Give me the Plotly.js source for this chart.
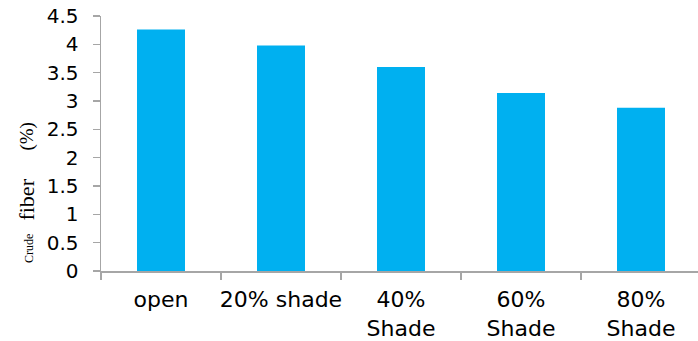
<!DOCTYPE html>
<html>
<head>
<meta charset="utf-8">
<script src="https://cdn.plot.ly/plotly-3.0.1.min.js"></script>
<style>
  html, body { margin: 0; padding: 0; background: #ffffff; }
  #chart { width: 698px; height: 341px; }
</style>
</head>
<body>
<div id="chart"></div>
<script>
// Shade treatments and their crude fiber content (%)
const categories = ["open", "20% shade", "40%<br>Shade", "60%<br>Shade", "80%<br>Shade"];
const crudeFiber = [4.26, 3.98, 3.60, 3.14, 2.88];
const yTickValues = [0, 0.5, 1, 1.5, 2, 2.5, 3, 3.5, 4, 4.5];
const yTickLabels = ["0", "0.5", "1", "1.5", "2", "2.5", "3", "3.5", "4", "4.5"];
// y-axis title pieces, each set in its own size
const yTitleParts = ["Crude", "fiber", "(%)"];
const yTitleSizes = [12, 22, 19];

const axisGrey = "#a6a6a6";
const plotLeft = 101, plotBottom = 271;

const trace = {
  type: "bar",
  x: categories,
  y: crudeFiber,
  width: 0.4,
  marker: { color: "#00b0f0", line: { width: 0 } },
  hoverinfo: "x+y"
};

// Rotated title pieces sharing one baseline (pixel column 33)
const titleBaseline = 33;
const titleCenters = [248, 200, 137];
const annotations = yTitleParts.map((txt, i) => ({
  text: txt,
  xref: "paper", yref: "paper",
  x: 0, y: 0,
  xanchor: "center", yanchor: "middle",
  xshift: (titleBaseline - 0.3375 * yTitleSizes[i]) - plotLeft,
  yshift: plotBottom - titleCenters[i],
  textangle: -90,
  showarrow: false,
  font: { family: "Liberation Serif, Times New Roman, serif", size: yTitleSizes[i], color: "#000000" }
}));

const layout = {
  width: 698,
  height: 341,
  margin: { l: plotLeft, r: 0, t: 16, b: 341 - plotBottom, pad: 0 },
  paper_bgcolor: "#ffffff",
  plot_bgcolor: "#ffffff",
  showlegend: false,
  font: { family: "DejaVu Sans, Arial, sans-serif", color: "#000000" },
  xaxis: {
    type: "category",
    range: [-0.5, 4.475],
    showline: true, linecolor: axisGrey, linewidth: 1.5,
    ticks: "outside", tickson: "boundaries", ticklen: 7, tickwidth: 1.5, tickcolor: axisGrey,
    showgrid: false, zeroline: false, tickangle: 0,
    tickfont: { family: "DejaVu Sans, Arial, sans-serif", size: 22, color: "#000000" },
    ticklabelstandoff: 8
  },
  yaxis: {
    range: [0, 4.5],
    tickmode: "array", tickvals: yTickValues, ticktext: yTickLabels,
    showline: true, linecolor: axisGrey, linewidth: 1.5,
    ticks: "outside", ticklen: 7, tickwidth: 1.5, tickcolor: axisGrey,
    showgrid: false, zeroline: false,
    tickfont: { family: "DejaVu Sans, Arial, sans-serif", size: 20, color: "#000000" },
    ticklabelstandoff: 10
  },
  annotations: annotations
};

Plotly.newPlot("chart", [trace], layout, { displayModeBar: false, staticPlot: true });
</script>
</body>
</html>
